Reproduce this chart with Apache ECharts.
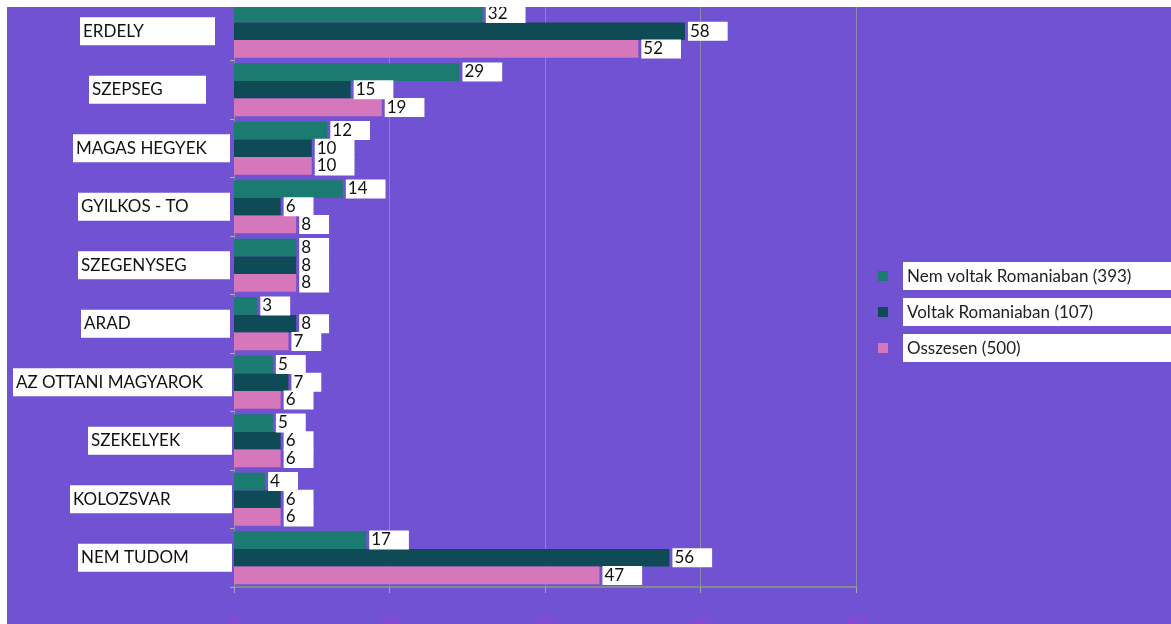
<!DOCTYPE html>
<html>
<head>
<meta charset="utf-8">
<script src="https://cdn.jsdelivr.net/npm/echarts@6/dist/echarts.min.js"></script>
<style>
  html, body { margin: 0; padding: 0; background: #fff; }
  #chart { width: 1171px; height: 624px; }
</style>
</head>
<body>
<div id="chart"></div>
<script>
const categories = ['ERDELY', 'SZEPSEG', 'MAGAS HEGYEK', 'GYILKOS - TO', 'SZEGENYSEG', 'ARAD', 'AZ OTTANI MAGYAROK', 'SZEKELYEK', 'KOLOZSVAR', 'NEM TUDOM']
const seriesNames = ['Nem voltak Romaniaban (393)', 'Voltak Romaniaban (107)', 'Osszesen (500)']
const nemVoltak = [32, 29, 12, 14, 8, 3, 5, 5, 4, 17]
const voltak = [58, 15, 10, 6, 8, 8, 7, 6, 6, 56]
const osszesen = [52, 19, 10, 8, 8, 7, 6, 6, 6, 47]
const colors = ['#1b7b70', '#0e4b57', '#d676bb']

// label box widths / gap to the axis, as drawn in the original sheet
const boxWidths = [132, 114, 154, 149, 149, 146, 216, 141, 159, 151]
const boxGaps = [17, 26, 2, 2, 2, 2, 0, 0, 0, 0]

const chart = echarts.init(document.getElementById('chart'))

const catRich = {}
boxWidths.forEach((w, i) => {
  catRich['c' + i] = {
    width: w,
    height: 28,
    align: 'left',
    backgroundColor: '#fff',
    padding: [0, 0, 0, 3],
    color: '#111',
    fontFamily: 'Lato',
    fontSize: 17
  }
  catRich['g' + i] = { width: boxGaps[i], height: 28 }
})

const valueLabel = {
  show: true,
  position: 'right',
  distance: 3,
  color: '#111',
  fontFamily: 'Lato',
  fontSize: 17,
  lineHeight: 18,
  backgroundColor: '#fff',
  padding: [1, 18, 0, 2]
}

const makeSeries = (name, data, color) => ({
  name: name,
  type: 'bar',
  data: data,
  barGap: '0%',
  barCategoryGap: '9%',
  itemStyle: { color: color },
  label: valueLabel
})

const option = {
  backgroundColor: '#7052d3',
  animation: false,
  grid: { left: 234, right: 315, top: 2, bottom: 37, outerBoundsMode: 'none' },
  legend: {
    orient: 'vertical',
    left: 878,
    top: 262,
    padding: 0,
    itemWidth: 10,
    itemHeight: 10,
    itemGap: 8,
    icon: 'rect',
    data: seriesNames,
    formatter: name => '{s|}{t|' + name + '}',
    textStyle: {
      rich: {
        s: { width: 10 },
        t: {
          color: '#222',
          fontFamily: 'Lato',
          fontSize: 17,
          backgroundColor: '#fff',
          padding: [6, 10, 5, 4],
          width: 262
        }
      }
    }
  },
  xAxis: {
    type: 'value',
    min: 0,
    max: 80,
    interval: 20,
    axisLine: { show: true, lineStyle: { color: '#7f8a98', width: 2 } },
    axisTick: { show: true, length: 6, lineStyle: { color: '#a0a8b8' } },
    splitLine: { show: true, lineStyle: { color: '#8c8ca6', width: 1 } },
    axisLabel: { color: '#9c3fd6', fontSize: 18, margin: 27, fontFamily: 'Lato' }
  },
  yAxis: {
    type: 'category',
    inverse: true,
    data: categories,
    axisLine: { show: true, lineStyle: { color: '#8c8ca6', width: 1 } },
    axisTick: { show: true, length: 4, lineStyle: { color: '#b0b0c8' } },
    axisLabel: {
      margin: 2,
      formatter: (value, i) => '{c' + i + '|' + value + '}{g' + i + '|}',
      rich: catRich
    }
  },
  series: [
    makeSeries(seriesNames[0], nemVoltak, colors[0]),
    makeSeries(seriesNames[1], voltak, colors[1]),
    makeSeries(seriesNames[2], osszesen, colors[2])
  ],
  graphic: [
    { type: 'rect', z: 100, shape: { x: 0, y: 0, width: 1171, height: 7 }, style: { fill: '#fff' } },
    { type: 'rect', z: 100, shape: { x: 0, y: 0, width: 7, height: 624 }, style: { fill: '#fff' } }
  ]
}

chart.setOption(option)
</script>
</body>
</html>
